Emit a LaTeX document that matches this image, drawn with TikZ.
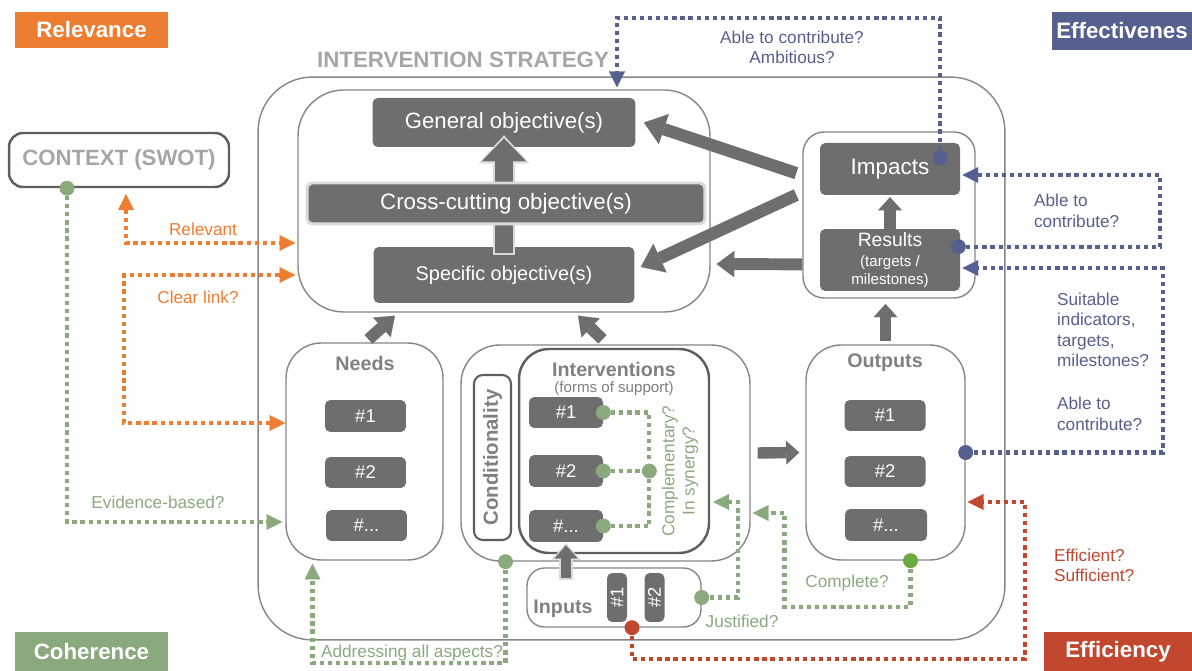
\documentclass[tikz,border=0pt]{standalone}
\usepackage{fontspec}
\setmainfont{Liberation Sans}
\usetikzlibrary{arrows.meta,calc,positioning}
\definecolor{boxgray}{HTML}{6E6E6E}
\definecolor{linegray}{HTML}{868686}
\definecolor{ctxgray}{HTML}{5E5E5E}
\definecolor{labelgray}{HTML}{A6A6A6}
\definecolor{headgray}{HTML}{808080}
\definecolor{pale}{HTML}{DADADA}
\definecolor{orangec}{HTML}{ED7D31}
\definecolor{bluec}{HTML}{56608F}
\definecolor{greenc}{HTML}{8AAA7E}
\definecolor{brightgreen}{HTML}{6AAA40}
\definecolor{redc}{HTML}{C1482F}
\tikzset{
  catbox/.style={fill=#1, text=white, font=\bfseries\fontsize{12.7}{15}\selectfont, inner sep=0pt},
  cont/.style={draw=linegray, line width=0.8pt, inner sep=0pt},
  frame/.style={draw=ctxgray, line width=1.4pt, inner sep=0pt},
  dbox/.style={fill=boxgray, text=white, rounded corners=3pt, inner sep=0pt, font=\fontsize{10.5}{12}\selectfont},
  head/.style={text=headgray, font=\bfseries\fontsize{11.2}{13}\selectfont},
  lbl/.style={text=#1, font=\fontsize{9.8}{11.6}\selectfont, inner sep=1pt},
  dl/.style={draw=#1, line width=2.4pt, dash pattern=on 2.4pt off 2.2pt},
  dotc/.style={circle, fill=#1, inner sep=0pt, minimum size=8.5pt},
  dtip/.tip={Triangle[length=9pt,width=9pt,line width=0.1pt]},
  bigarr/.style={draw=boxgray, line width=7pt, -{Triangle[length=12pt,width=18pt,line width=0.1pt]}},
  midarr/.style={draw=boxgray, line width=6.8pt, -{Triangle[length=10pt,width=15pt,line width=0.1pt]}},
  smallarr/.style={draw=boxgray, line width=6.5pt, -{Triangle[length=7.5pt,width=13.5pt,line width=0.1pt]}},
}
\begin{document}
\begin{tikzpicture}[x=0.02cm,y=-0.02cm]
\useasboundingbox (0,0) rectangle (1192,671);

% criteria
\node[catbox=orangec, minimum width=3.06cm, minimum height=0.72cm] (relevance) at (91.5,30) {Relevance};
\node[catbox=bluec, minimum width=2.8cm, minimum height=0.76cm] (effect) at (1122,31) {Effectivenes};
\node[catbox=greenc, minimum width=3.06cm, minimum height=0.78cm] (coherence) at (91.5,651.5) {Coherence};
\node[catbox=redc, minimum width=2.96cm, minimum height=0.78cm] (efficiency) at (1118,651.5) {Efficiency};

% strategy frame
\node[cont, rounded corners=31pt, minimum width=14.94cm, minimum height=11.26cm] (strat) at (631.5,358.5) {};
\node[text=labelgray, font=\bfseries\fontsize{12.7}{15}\selectfont] (title) at (463,60) {INTERVENTION STRATEGY};
\node[frame, rounded corners=8pt, minimum width=4.4cm, minimum height=1.08cm, text=labelgray, font=\bfseries\fontsize{12.6}{15}\selectfont] (ctx) at (119,160) {CONTEXT (SWOT)};

% objectives
\node[cont, rounded corners=26pt, minimum width=8.24cm, minimum height=4.44cm] (objs) at (504,201) {};
\node[dbox, minimum width=5.26cm, minimum height=0.98cm, font=\fontsize{12.6}{15}\selectfont] (gen) at (504,122.5) {General objective(s)};
\node[dbox, minimum width=5.22cm, minimum height=1.12cm, font=\fontsize{11.3}{14}\selectfont] (spec) at (504,275) {Specific objective(s)};
\draw[draw=pale, line width=12.5pt, -{Triangle[length=16pt,width=29pt,line width=0.1pt]}, shorten >=-1.7pt, shorten <=-1.2pt] ($(spec.north)+(0,6)$) -- ($(gen.south)+(0,-9)$);
\draw[draw=boxgray, line width=10pt, -{Triangle[length=13pt,width=25pt,line width=0.1pt]}] ($(spec.north)+(0,6)$) -- ($(gen.south)+(0,-9)$);
\node[dbox, draw=pale, line width=1.7pt, minimum width=7.96cm, minimum height=0.82cm, font=\fontsize{12.7}{15}\selectfont] (cross) at (506,203.5) {Cross-cutting objective(s)};

% impacts and results
\node[cont, rounded corners=12pt, minimum width=3.44cm, minimum height=3.32cm] (ir) at (889,215) {};
\node[dbox, minimum width=2.8cm, minimum height=1.04cm, font=\fontsize{12.8}{15}\selectfont] (imp) at (890,169) {Impacts};
\node[dbox, minimum width=2.8cm, minimum height=1.24cm, align=center, font=\fontsize{8.6}{10.2}\selectfont] (res) at (890,260) {{\fontsize{11}{13}\selectfont Results}\\[1pt](targets /\\milestones)};

% needs
\node[cont, rounded corners=20pt, minimum width=3.14cm, minimum height=4.34cm] (needs) at (364.5,451.5) {};
\node[head] (needsh) at (365,363) {Needs};
\node[dbox, minimum width=1.62cm, minimum height=0.64cm] (nd1) at (365.5,416) {\#1};
\node[dbox, minimum width=1.62cm, minimum height=0.62cm] (nd2) at (365.5,472.5) {\#2};
\node[dbox, minimum width=1.62cm, minimum height=0.62cm] (nd3) at (366.5,525.5) {\#...};

% interventions
\node[cont, rounded corners=22pt, minimum width=5.78cm, minimum height=4.32cm] (intv) at (605.5,453) {};
\node[frame, head, line width=1.2pt, rounded corners=5pt, rotate=90, minimum width=3.3cm, minimum height=0.74cm, font=\bfseries\fontsize{11.6}{13}\selectfont] (cond) at (492.5,457.5) {Conditionality};
\node[frame, rounded corners=17pt, minimum width=3.8cm, minimum height=4.08cm] (ivbox) at (614,451) {};
\node[head] (ivh) at (614,369) {Interventions};
\node[text=headgray, font=\fontsize{8.6}{10}\selectfont] (ivsub) at (614,389) {(forms of support)};
\node[dbox, minimum width=1.48cm, minimum height=0.62cm] (iv1) at (566,412.5) {\#1};
\node[dbox, minimum width=1.48cm, minimum height=0.64cm] (iv2) at (566,471) {\#2};
\node[dbox, minimum width=1.48cm, minimum height=0.64cm] (iv3) at (566,526) {\#...};

% inputs
\node[cont, rounded corners=10pt, minimum width=3.48cm, minimum height=1.18cm] (inp) at (614,597.5) {};
\node[head] (inph) at (563,609) {Inputs};
\node[dbox, rotate=90, minimum width=0.98cm, minimum height=0.4cm] (in1) at (617,597.5) {\#1};
\node[dbox, rotate=90, minimum width=0.98cm, minimum height=0.4cm] (in2) at (654.5,597.5) {\#2};

% outputs
\node[cont, rounded corners=20pt, minimum width=3.18cm, minimum height=4.3cm] (outc) at (885.5,452.5) {};
\node[head] (outh) at (885,363) {Outputs};
\node[dbox, minimum width=1.62cm, minimum height=0.62cm] (out1) at (885,415.5) {\#1};
\node[dbox, minimum width=1.62cm, minimum height=0.62cm] (out2) at (885,471.5) {\#2};
\node[dbox, minimum width=1.64cm, minimum height=0.64cm] (out3) at (886,525) {\#...};

% block arrows
\draw[bigarr] ($(ir.north west)!0.25!(ir.south west)+(-6,0)$) -- ($(gen.east)+(8,0)$);
\draw[bigarr] ($(ir.north west)!0.38!(ir.south west)+(-6,0)$) -- ($(spec.east)+(6,-8)$);
\draw[midarr] ($(ir.north west)!0.795!(ir.south west)$) -- ($(objs.east)+(6,63)$);
\draw[smallarr, shorten >=1pt] (res.north) -- (imp.south);
\draw[smallarr, shorten <=2pt, shorten >=3pt] (outc.north) -- (outc.north |- ir.south);
\draw[midarr] ($(needs.north)+(4,-3)$) -- ($(objs.south)+(-109,3)$);
\draw[midarr] ($(intv.north)+(-3,-5)$) -- ($(objs.south)+(74,3)$);
\draw[smallarr] ($(intv.east)+(7,0)$) -- ($(outc.west)+(-6,0)$);
\draw[draw=pale, line width=8pt, -{Triangle[length=9.5pt,width=16.5pt,line width=0.1pt]}, shorten >=-1.3pt, shorten <=-1.2pt] ($(iv3.south |- inp.north)+(0,11)$) -- ($(iv3.south)+(0,3)$);
\draw[draw=boxgray, line width=5.7pt, -{Triangle[length=7.4pt,width=13pt,line width=0.1pt]}] ($(iv3.south |- inp.north)+(0,11)$) -- ($(iv3.south)+(0,3)$);

% dots
\node[dotc=greenc] (ctxdot) at ($(ctx.south)+(-52,0)$) {};
\node[dotc=greenc] (intvdot) at ($(intv.south)+(-100,0)$) {};
\node[dotc=greenc] (iv1dot) at (iv1.east) {};
\node[dotc=greenc] (iv2dot) at (iv2.east) {};
\node[dotc=greenc] (iv3dot) at (iv3.east) {};
\node[dotc=greenc] (brk) at ($(iv2.east)+(46,0)$) {};
\node[dotc=greenc] (inpdot) at (inp.east) {};
\node[dotc=brightgreen] (outdot) at ($(outc.south)+(25,0)$) {};
\node[dotc=redc] (rdot) at ($(inp.south)+(18,0)$) {};
\node[dotc=bluec] (impdot) at ($(imp.north east)+(-20,15)$) {};
\node[dotc=bluec] (resdot) at ($(res.north east)+(-2,18)$) {};
\node[dotc=bluec] (outbdot) at (outc.east) {};

% relevance
\draw[dl=orangec, dtip-dtip] ($(ctx.south)+(7,6)$) |- ($(objs.west)+(-2,42)$);
\draw[dl=orangec, dtip-dtip] ($(objs.west)+(-2,74)$) -- ++(-171,0) |- ($(needs.west)+(0,-28.5)$);
\node[lbl=orangec] (relv) at (203,229) {Relevant};
\node[lbl=orangec] (clear) at (198,297) {Clear link?};

% coherence
\draw[dl=greenc, -dtip] (ctxdot) |- ($(needs.west)+(-3,70.5)$);
\draw[dl=greenc, -dtip] (intvdot) -- ++(0,101) -| ($(needs.south)+(-52,3)$);
\draw[dl=greenc] (iv1dot) -| (brk);
\draw[dl=greenc] (iv3dot) -| (brk);
\draw[dl=greenc] (iv2dot) -- (brk);
\draw[dl=greenc, -dtip] (inpdot) -- ++(36,0) |- ($(ivbox.east)+(3,51)$);
\draw[dl=greenc, -dtip] (outdot) -- ++(0,46) -- ++(-126,0) |- ($(intv.east)+(2,60)$);
\node[lbl=greenc] (evid) at (158,502) {Evidence-based?};
\node[lbl=greenc] (addr) at (412,653) {Addressing all aspects?};
\node[lbl=greenc] (just) at (742,621) {Justified?};
\node[lbl=greenc] (compl) at (847,583) {Complete?};
\node[lbl=greenc, rotate=90, align=center] (syn) at (680,471) {Complementary?\\In synergy?};

% efficiency
\draw[dl=redc, -dtip] (rdot) -- ++(0,31) -- ++(393,0) |- ($(outc.east)+(2,49.5)$);
\node[lbl=redc, align=left, anchor=west] (effq) at (1052,565.5) {Efficient?\\Sufficient?};

% effectiveness
\draw[dl=bluec, -dtip] (impdot) -- ++(0,-140) -| ($(objs.north)+(113,-2)$);
\draw[dl=bluec, -dtip] (resdot) -- ++(202,0) |- ($(imp.east)+(2,6)$);
\draw[dl=bluec, -dtip] (outbdot) -- ++(197,0) |- ($(res.east)+(2,8)$);
\node[lbl=bluec, align=center] (ambq) at (792,47.5) {Able to contribute?\\Ambitious?};
\node[lbl=bluec, align=left, anchor=west] (abl1) at (1032,211) {Able to\\contribute?};
\node[lbl=bluec, align=left, anchor=west] (suit) at (1055,330) {Suitable\\indicators,\\targets,\\milestones?};
\node[lbl=bluec, align=left, anchor=west] (abl2) at (1055,414) {Able to\\contribute?};
\end{tikzpicture}
\end{document}
